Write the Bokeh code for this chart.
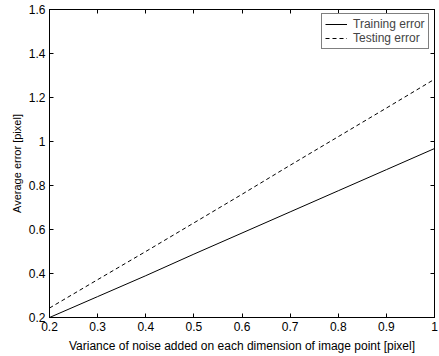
from bokeh.plotting import figure
from bokeh.models import LinearAxis, FixedTicker, Range1d, Legend, LegendItem
from bokeh.embed import file_html
from bokeh.resources import INLINE

noise_var = [0.2, 0.3, 0.4, 0.5, 0.6, 0.7, 0.8, 0.9, 1.0]
training_error = [0.20, 0.295, 0.39, 0.488, 0.584, 0.68, 0.776, 0.872, 0.968]
testing_error = [0.243, 0.372, 0.50, 0.63, 0.76, 0.892, 1.022, 1.152, 1.283]

x_ticks = [0.2, 0.3, 0.4, 0.5, 0.6, 0.7, 0.8, 0.9, 1.0]
x_tick_labels = ["0.2", "0.3", "0.4", "0.5", "0.6", "0.7", "0.8", "0.9", "1"]
y_ticks = [0.2, 0.4, 0.6, 0.8, 1.0, 1.2, 1.4, 1.6]
y_tick_labels = ["0.2", "0.4", "0.6", "0.8", "1", "1.2", "1.4", "1.6"]

FONT = "Liberation Sans"

p = figure(width=438, height=355, output_backend="svg", toolbar_location=None,
           x_range=Range1d(0.2, 1.0), y_range=Range1d(0.2, 1.6),
           min_border_left=49, min_border_right=4, min_border_top=9, min_border_bottom=30)
p.grid.visible = False
p.outline_line_color = "black"
p.outline_line_width = 1
p.background_fill_color = "white"
p.border_fill_color = "white"

r1 = p.line(noise_var, training_error, line_color="black", line_width=1)
r2 = p.line(noise_var, testing_error, line_color="black", line_width=1, line_dash="4 3")

def style_axis(ax, ticks, labels, show_labels=True):
    ax.ticker = FixedTicker(ticks=ticks)
    ax.major_label_overrides = {t: l for t, l in zip(ticks, labels)}
    ax.major_tick_in = 4
    ax.major_tick_out = 0
    ax.minor_tick_in = 0
    ax.minor_tick_out = 0
    ax.axis_line_color = "black"
    ax.major_tick_line_color = "black"
    ax.major_label_text_font = FONT
    ax.major_label_text_font_size = "12px"
    ax.major_label_text_color = "black"
    ax.axis_label_text_font = FONT
    ax.axis_label_text_font_size = "12px"
    ax.axis_label_text_font_style = "normal"
    ax.axis_label_text_color = "black"
    if not show_labels:
        ax.major_label_text_alpha = 0
        ax.major_label_standoff = 0

style_axis(p.xaxis[0], x_ticks, x_tick_labels)
style_axis(p.yaxis[0], y_ticks, y_tick_labels)
p.xaxis[0].axis_label = "Variance of noise added on each dimension of image point [pixel]"
p.yaxis[0].axis_label = "Average error [pixel]"
p.yaxis[0].axis_label_text_font_size = "11px"
p.xaxis[0].major_label_standoff = 4
p.yaxis[0].major_label_standoff = 4
p.xaxis[0].axis_label_standoff = 5
p.yaxis[0].axis_label_standoff = 3

top_ax = LinearAxis()
style_axis(top_ax, x_ticks, x_tick_labels, show_labels=False)
top_ax.major_label_overrides = {t: "" for t in x_ticks}
p.add_layout(top_ax, "above")
right_ax = LinearAxis()
style_axis(right_ax, y_ticks, y_tick_labels, show_labels=False)
right_ax.major_label_overrides = {t: "" for t in y_ticks}
p.add_layout(right_ax, "right")

legend = Legend(items=[LegendItem(label="Training error", renderers=[r1]),
                       LegendItem(label="Testing error", renderers=[r2])],
                location=(272, 268))
legend.label_text_font = FONT
legend.label_text_font_size = "12px"
legend.border_line_color = "black"
legend.border_line_width = 1
legend.margin = 0
legend.padding = 3
legend.spacing = 0
legend.glyph_width = 22
legend.glyph_height = 14
legend.label_height = 14
legend.label_standoff = 6
legend.background_fill_alpha = 1
p.add_layout(legend)

open("out.html", "w").write(file_html(p, INLINE))
